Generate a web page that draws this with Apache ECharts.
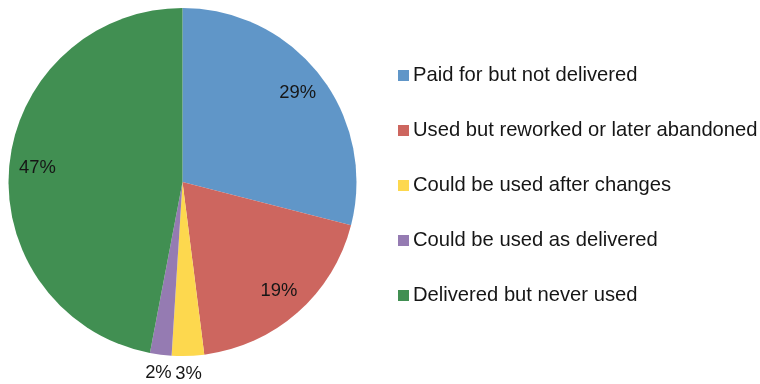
<!DOCTYPE html>
<html><head><meta charset="utf-8">
<script src="https://cdn.jsdelivr.net/npm/echarts@6/dist/echarts.min.js"></script>
<style>html,body{margin:0;padding:0;background:#fff}#c{width:760px;height:384px}</style>
</head><body><div id="c"></div>
<script>
const categories = ['Paid for but not delivered','Used but reworked or later abandoned','Could be used after changes','Could be used as delivered','Delivered but never used'];
const values = [29, 19, 3, 2, 47];
const colors = ['#6096C8','#CD665F','#FDD84E','#957BB2','#418F52'];

const chart = echarts.init(document.getElementById('c'), null, {renderer:'canvas'});
const FONT = '"Liberation Sans", Arial, Helvetica, sans-serif';
const center = [182.5, 182];
const R = 174;

function mk(transparent, showFn) {
  return categories.map((n, i) => ({
    name: n, value: values[i],
    itemStyle: {color: transparent ? 'rgba(0,0,0,0)' : colors[i]},
    label: {show: showFn ? showFn(values[i]) : false}
  }));
}

const labelStyle = {position: 'inside', formatter: '{c}%', fontFamily: FONT, fontSize: 18.4, color: '#161616'};

chart.setOption({
  animation: false,
  legend: {
    orient: 'vertical', left: 398, top: 65.5, padding: 0,
    itemWidth: 11, itemHeight: 11, itemGap: 35,
    icon: 'rect',
    textStyle: {fontFamily: FONT, fontSize: 20.2, color: '#161616', lineHeight: 20, padding: [0, 0, 0, -1]},
    data: categories.map((n, i) => ({name: n, itemStyle: {color: colors[i]}}))
  },
  series: [
    {
      type: 'pie', center: center, radius: [0, R], startAngle: 90, clockwise: true,
      label: {show: false}, labelLine: {show: false}, silent: true,
      itemStyle: {borderWidth: 0},
      data: mk(false, null)
    },
    {
      type: 'pie', center: center, radius: [R * 0.64, R], startAngle: 90, clockwise: true,
      silent: true, legendHoverLink: false, avoidLabelOverlap: false,
      label: labelStyle, labelLine: {show: false},
      data: mk(true, v => v >= 10)
    },
    {
      type: 'pie', center: center, radius: [182, 196], startAngle: 90, clockwise: true,
      silent: true, legendHoverLink: false, avoidLabelOverlap: false,
      label: labelStyle, labelLine: {show: false},
      data: mk(true, v => v < 10)
    }
  ]
});
</script></body></html>
